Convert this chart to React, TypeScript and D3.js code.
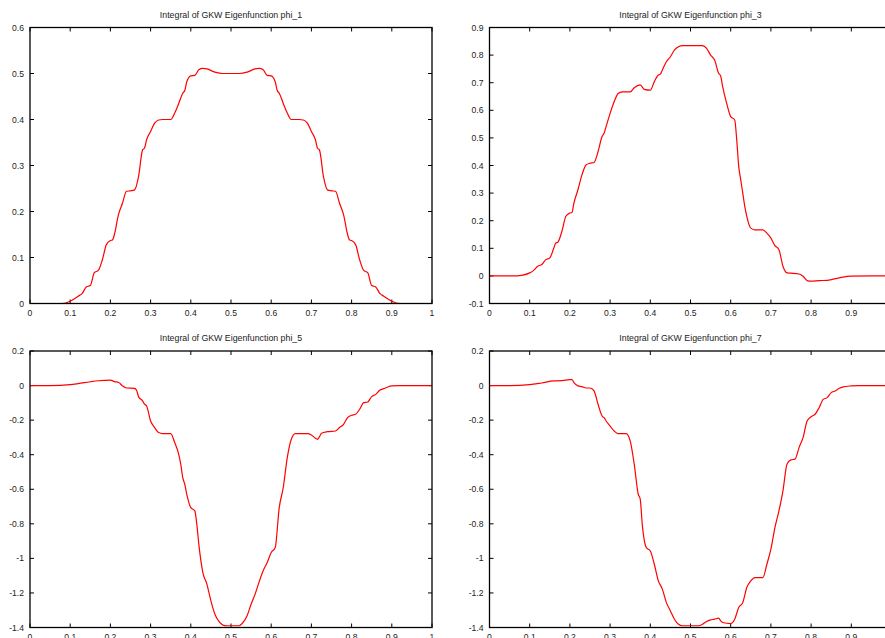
import React from 'react'
import * as d3 from 'd3'

// tick values shared by all panels on the x axis
const xTicks = [0, 0.1, 0.2, 0.3, 0.4, 0.5, 0.6, 0.7, 0.8, 0.9, 1]

const ticksPhi1 = [0, 0.1, 0.2, 0.3, 0.4, 0.5, 0.6]
const ticksPhi3 = [-0.1, 0, 0.1, 0.2, 0.3, 0.4, 0.5, 0.6, 0.7, 0.8, 0.9]
const ticksLower = [-1.4, -1.2, -1, -0.8, -0.6, -0.4, -0.2, 0, 0.2]

// curves, [x, value]
const phi1: [number, number][] = [
  [0, 0], [0.04, 0], [0.08, 0], [0.1, 0.005], [0.12, 0.016], [0.13, 0.022], [0.14, 0.036], [0.15, 0.039],
  [0.16, 0.067], [0.17, 0.072], [0.18, 0.095], [0.19, 0.128], [0.2, 0.137], [0.205, 0.138], [0.21, 0.15],
  [0.22, 0.193], [0.23, 0.218], [0.24, 0.244], [0.25, 0.245], [0.26, 0.247], [0.27, 0.276], [0.28, 0.334],
  [0.285, 0.338], [0.29, 0.356], [0.3, 0.374], [0.31, 0.392], [0.32, 0.399], [0.33, 0.4], [0.35, 0.4],
  [0.36, 0.414], [0.37, 0.435], [0.38, 0.457], [0.385, 0.463], [0.39, 0.482], [0.4, 0.495], [0.41, 0.496],
  [0.42, 0.508], [0.43, 0.511], [0.44, 0.51], [0.46, 0.503], [0.48, 0.5], [0.5, 0.5], [0.52, 0.5],
  [0.54, 0.503], [0.56, 0.51], [0.57, 0.511], [0.58, 0.508], [0.59, 0.496], [0.6, 0.495], [0.61, 0.482],
  [0.615, 0.463], [0.62, 0.457], [0.63, 0.435], [0.64, 0.414], [0.65, 0.4], [0.67, 0.4], [0.68, 0.399],
  [0.69, 0.392], [0.7, 0.374], [0.71, 0.356], [0.715, 0.338], [0.72, 0.334], [0.73, 0.276], [0.74, 0.247],
  [0.75, 0.245], [0.76, 0.244], [0.77, 0.218], [0.78, 0.193], [0.79, 0.15], [0.795, 0.138], [0.8, 0.137],
  [0.81, 0.128], [0.82, 0.095], [0.83, 0.072], [0.84, 0.067], [0.85, 0.039], [0.86, 0.036], [0.87, 0.022],
  [0.88, 0.016], [0.9, 0.005], [0.92, 0], [0.96, 0], [1, 0],
]

const phi3: [number, number][] = [
  [0, 0], [0.04, 0], [0.07, 0], [0.08, 0.002], [0.1, 0.011], [0.11, 0.02], [0.12, 0.035], [0.13, 0.041],
  [0.14, 0.059], [0.15, 0.065], [0.16, 0.101], [0.165, 0.119], [0.17, 0.122], [0.18, 0.161], [0.19, 0.216],
  [0.2, 0.228], [0.205, 0.23], [0.21, 0.264], [0.22, 0.312], [0.23, 0.366], [0.24, 0.402], [0.25, 0.408],
  [0.26, 0.411], [0.27, 0.45], [0.28, 0.505], [0.285, 0.517], [0.29, 0.541], [0.3, 0.589], [0.31, 0.631],
  [0.32, 0.661], [0.33, 0.667], [0.35, 0.667], [0.36, 0.682], [0.375, 0.692], [0.385, 0.676], [0.4, 0.673],
  [0.41, 0.704], [0.42, 0.728], [0.425, 0.731], [0.43, 0.746], [0.44, 0.776], [0.45, 0.794], [0.46, 0.818],
  [0.47, 0.83], [0.48, 0.834], [0.5, 0.834], [0.53, 0.834], [0.54, 0.824], [0.55, 0.8], [0.56, 0.782],
  [0.57, 0.734], [0.575, 0.724], [0.58, 0.686], [0.59, 0.625], [0.6, 0.577], [0.61, 0.565], [0.615, 0.493],
  [0.62, 0.396], [0.625, 0.348], [0.63, 0.3], [0.635, 0.252], [0.64, 0.216], [0.65, 0.173], [0.66, 0.167],
  [0.68, 0.167], [0.69, 0.155], [0.7, 0.137], [0.71, 0.11], [0.72, 0.095], [0.73, 0.035], [0.74, 0.011],
  [0.75, 0.01], [0.77, 0.007], [0.78, -0.001], [0.79, -0.017], [0.8, -0.019], [0.82, -0.017],
  [0.84, -0.016], [0.87, -0.007], [0.9, -0.001], [0.95, 0], [1, 0],
]

const phi5: [number, number][] = [
  [0, 0], [0.05, 0], [0.1, 0.005], [0.12, 0.011], [0.15, 0.022], [0.17, 0.028], [0.2, 0.032], [0.21, 0.023],
  [0.22, 0.019], [0.23, -0.002], [0.24, -0.014], [0.26, -0.016], [0.265, -0.027], [0.27, -0.064],
  [0.28, -0.089], [0.285, -0.108], [0.29, -0.118], [0.3, -0.205], [0.31, -0.243], [0.32, -0.272],
  [0.33, -0.278], [0.35, -0.278], [0.36, -0.33], [0.37, -0.398], [0.375, -0.455], [0.38, -0.533],
  [0.385, -0.571], [0.39, -0.629], [0.4, -0.706], [0.41, -0.725], [0.415, -0.803], [0.42, -0.919],
  [0.43, -1.082], [0.44, -1.149], [0.45, -1.246], [0.46, -1.323], [0.47, -1.365], [0.48, -1.386],
  [0.49, -1.39], [0.52, -1.39], [0.53, -1.371], [0.54, -1.332], [0.55, -1.265], [0.56, -1.207],
  [0.57, -1.136], [0.58, -1.072], [0.59, -1.024], [0.6, -0.966], [0.61, -0.937], [0.62, -0.706],
  [0.63, -0.59], [0.64, -0.417], [0.65, -0.311], [0.66, -0.278], [0.69, -0.278], [0.7, -0.286],
  [0.71, -0.305], [0.715, -0.311], [0.72, -0.296], [0.725, -0.276], [0.74, -0.267], [0.76, -0.263],
  [0.77, -0.243], [0.78, -0.224], [0.79, -0.186], [0.8, -0.172], [0.81, -0.166], [0.82, -0.137],
  [0.83, -0.099], [0.84, -0.095], [0.85, -0.064], [0.86, -0.051], [0.87, -0.027], [0.88, -0.018],
  [0.89, -0.008], [0.9, -0.002], [0.92, 0], [0.96, 0], [1, 0],
]

const phi7: [number, number][] = [
  [0, 0], [0.05, 0], [0.1, 0.005], [0.13, 0.015], [0.16, 0.027], [0.18, 0.028], [0.2, 0.034], [0.205, 0.034],
  [0.21, 0.017], [0.22, -0.002], [0.23, -0.006], [0.24, -0.014], [0.25, -0.014], [0.26, -0.031],
  [0.27, -0.108], [0.28, -0.176], [0.285, -0.186], [0.29, -0.205], [0.3, -0.234], [0.31, -0.263],
  [0.32, -0.278], [0.34, -0.278], [0.35, -0.32], [0.36, -0.455], [0.37, -0.629], [0.375, -0.658],
  [0.38, -0.803], [0.39, -0.937], [0.4, -0.957], [0.41, -1.034], [0.42, -1.13], [0.43, -1.178],
  [0.44, -1.256], [0.45, -1.304], [0.46, -1.352], [0.47, -1.381], [0.48, -1.39], [0.52, -1.39],
  [0.53, -1.381], [0.54, -1.365], [0.55, -1.356], [0.56, -1.352], [0.57, -1.346], [0.575, -1.361],
  [0.58, -1.371], [0.6, -1.377], [0.61, -1.352], [0.62, -1.284], [0.63, -1.256], [0.64, -1.169],
  [0.65, -1.13], [0.66, -1.111], [0.68, -1.111], [0.69, -1.034], [0.7, -0.947], [0.71, -0.822],
  [0.72, -0.725], [0.73, -0.609], [0.74, -0.455], [0.75, -0.43], [0.76, -0.426], [0.77, -0.359],
  [0.78, -0.301], [0.79, -0.205], [0.8, -0.18], [0.81, -0.166], [0.82, -0.128], [0.83, -0.08],
  [0.84, -0.07], [0.85, -0.041], [0.86, -0.031], [0.87, -0.016], [0.88, -0.008], [0.9, -0.002],
  [0.92, 0], [0.96, 0], [1, 0],
]

const fontFamily = 'Helvetica, Arial, "Liberation Sans", sans-serif'
const fmt = (t: number) => `${+t.toFixed(1)}`

type PanelProps = {
  title: string
  data: [number, number][]
  yDomain: [number, number]
  yTicks: number[]
  left: number
  right: number
  top: number
  bottom: number
}

function Panel({ title, data, yDomain, yTicks, left, right, top, bottom }: PanelProps) {
  const x = d3.scaleLinear().domain([0, 1]).range([left, right])
  const y = d3.scaleLinear().domain(yDomain).range([bottom, top])
  const line = d3
    .line<[number, number]>()
    .x(d => x(d[0]))
    .y(d => y(d[1]))
    .curve(d3.curveMonotoneX)
  const tick = 4

  return (
    <g>
      <text x={(left + right) / 2} y={top - 10} textAnchor="middle" fontSize={8.8} fill="#222">{title}</text>
      {/* x ticks, mirrored on top like gnuplot */}
      {xTicks.map(t => <g key={t}>
        <path d={`M ${x(t)} ${bottom} v ${-tick} M ${x(t)} ${top} v ${tick}`} stroke="#000" strokeWidth={1} />
        <text x={x(t)} y={bottom + 12.5} textAnchor="middle" fontSize={8.6} fill="#222">{fmt(t)}</text>
      </g>)}
      {yTicks.map(t => <g key={t}>
        <path d={`M ${left} ${y(t)} h ${tick} M ${right} ${y(t)} h ${-tick}`} stroke="#000" strokeWidth={1} />
        <text x={left - 6} y={y(t) + 3} textAnchor="end" fontSize={8.6} fill="#222">{fmt(t)}</text>
      </g>)}
      <path d={line(data) ?? ''} fill="none" stroke="#ff0000" strokeWidth={1.2} />
      <rect x={left} y={top} width={right - left} height={bottom - top} fill="none" stroke="#000" strokeWidth={1.3} />
    </g>
  )
}

export default function App() {
  const width = 885
  const height = 638
  const cols = [[30, 432], [489.5, 891.5]]
  const rows = [[27.5, 303.5], [351, 627.5]]

  return (
    <svg width={width} height={height} style={{ position: 'absolute', left: 0, top: 0, background: '#fff' }} fontFamily={fontFamily}>
      <Panel title="Integral of GKW Eigenfunction phi_1" data={phi1} yDomain={[0, 0.6]} yTicks={ticksPhi1}
        left={cols[0][0]} right={cols[0][1]} top={rows[0][0]} bottom={rows[0][1]} />
      <Panel title="Integral of GKW Eigenfunction phi_3" data={phi3} yDomain={[-0.1, 0.9]} yTicks={ticksPhi3}
        left={cols[1][0]} right={cols[1][1]} top={rows[0][0]} bottom={rows[0][1]} />
      <Panel title="Integral of GKW Eigenfunction phi_5" data={phi5} yDomain={[-1.4, 0.2]} yTicks={ticksLower}
        left={cols[0][0]} right={cols[0][1]} top={rows[1][0]} bottom={rows[1][1]} />
      <Panel title="Integral of GKW Eigenfunction phi_7" data={phi7} yDomain={[-1.4, 0.2]} yTicks={ticksLower}
        left={cols[1][0]} right={cols[1][1]} top={rows[1][0]} bottom={rows[1][1]} />
    </svg>
  )
}
